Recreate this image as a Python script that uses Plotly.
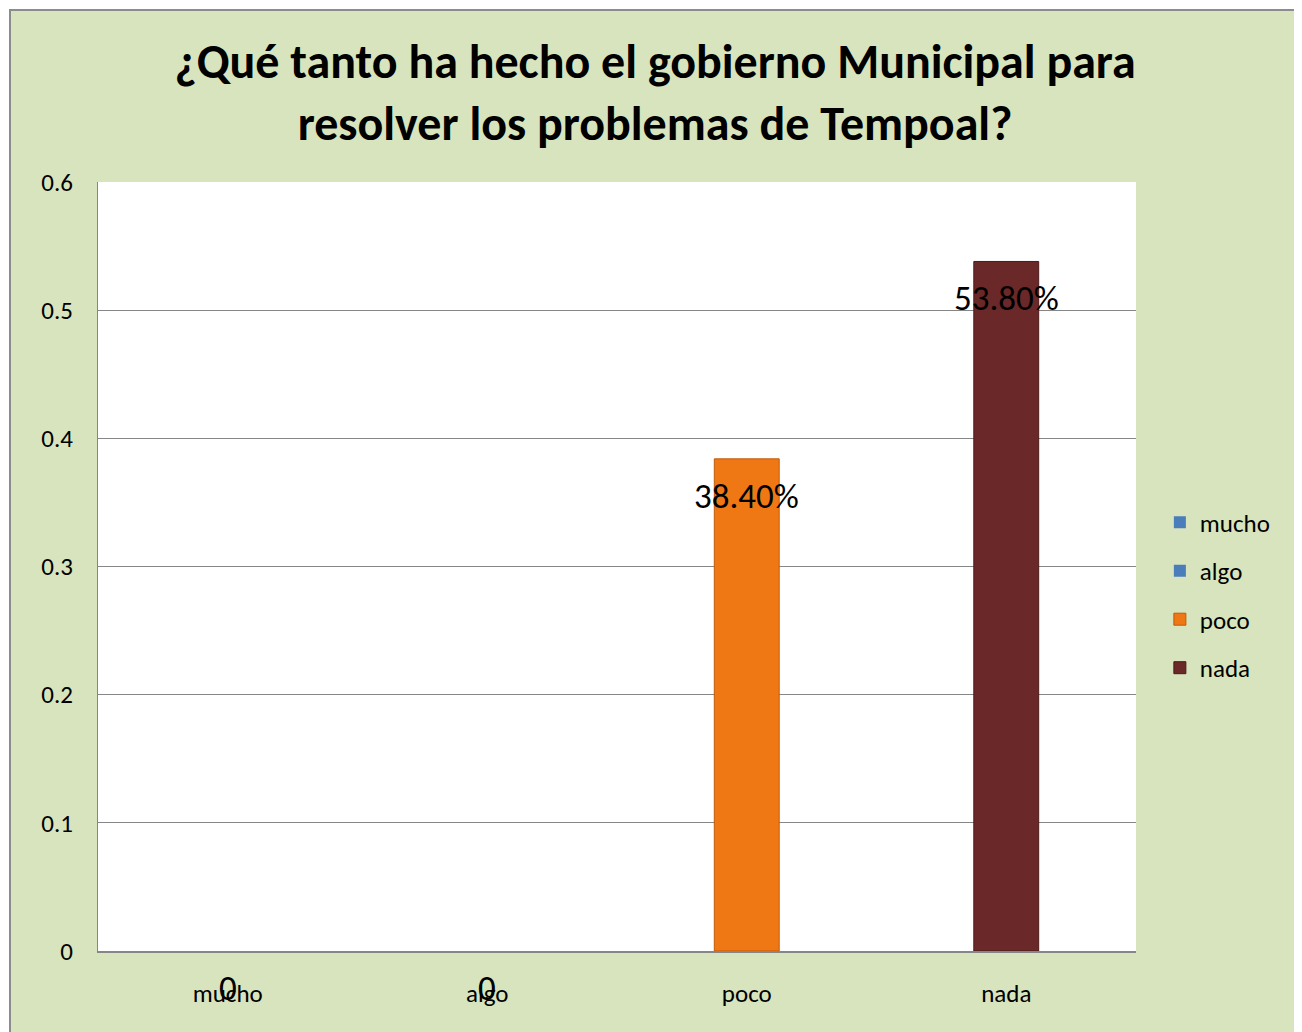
import plotly.graph_objects as go

categories = ["mucho", "algo", "poco", "nada"]
values = [0, 0, 0.384, 0.538]
value_labels = ["0", "0", "38.40%", "53.80%"]
colors = ["#4A7EBB", "#4A7EBB", "#F07814", "#6B2828"]
edge_colors = ["#2F5A8C", "#2F5A8C", "#C05A0A", "#4A1A1A"]
y_ticks = [0, 0.1, 0.2, 0.3, 0.4, 0.5, 0.6]

FONT = "Carlito, Calibri, Lato, sans-serif"

# the page puts the figure 8px in from the corner, so margins are 8px smaller
L, T, PW, PH = 90, 174, 1038, 769

fig = go.Figure()
for cat, val, col, edge in zip(categories, values, colors, edge_colors):
    fig.add_trace(
        go.Bar(
            x=[cat],
            y=[val],
            name=cat,
            legendgroup=cat,
            marker=dict(color=col, line=dict(color=edge, width=1 if val else 0)),
            width=0.25,
            offsetgroup="one",
        )
    )

# data labels, drawn a bit below the top of each bar (as in the original)
for cat, val, lab in zip(categories, values, value_labels):
    fig.add_annotation(
        x=cat, y=val, text=lab, showarrow=False,
        yanchor="middle", yshift=-37,
        font=dict(size=35, color="black", family=FONT),
    )

# outer chart frame and white plot area
fig.add_shape(
    type="rect", xref="paper", yref="paper",
    x0=(10 - 98) / PW, x1=(1300 - 98) / PW,
    y0=-0.2, y1=(951 - 10) / PH,
    fillcolor="#D7E4BD", line=dict(color="#8C8C8C", width=2), layer="below",
)
fig.add_shape(
    type="rect", xref="paper", yref="paper", x0=0, x1=1, y0=0, y1=1,
    fillcolor="white", line=dict(width=0), layer="below",
)

fig.update_layout(
    width=1302,
    height=1032,
    margin=dict(l=L, r=1302 - L - PW, t=T, b=1032 - T - PH),
    paper_bgcolor="white",
    plot_bgcolor="rgba(0,0,0,0)",
    barmode="overlay",
    font=dict(family=FONT, color="black"),
    title=dict(
        text="¿Qué tanto ha hecho el gobierno Municipal para<br>resolver los problemas de Tempoal?",
        x=(655 - 8) / 1302, xanchor="center", y=1 - (78 - 8) / 1032, yanchor="middle",
        font=dict(size=48, family=FONT, color="black", weight="bold"),
    ),
    xaxis=dict(
        showgrid=False, showline=True, linecolor="#868686", linewidth=2,
        ticks="", tickfont=dict(size=25), ticklabelstandoff=19,
        fixedrange=True,
    ),
    yaxis=dict(
        range=[0, 0.6], tickvals=y_ticks, ticktext=[f"{t:g}" for t in y_ticks],
        showgrid=True, gridcolor="#868686", gridwidth=1,
        showline=True, linecolor="#868686", linewidth=1,
        ticks="", tickfont=dict(size=25), ticklabelstandoff=19,
        zeroline=False,
    ),
    legend=dict(
        x=1.023, xanchor="left", y=0.463, yanchor="middle",
        font=dict(size=25), bgcolor="rgba(0,0,0,0)",
        itemwidth=30, tracegroupgap=13,
    ),
    showlegend=True,
)

fig.write_html("out.html")
